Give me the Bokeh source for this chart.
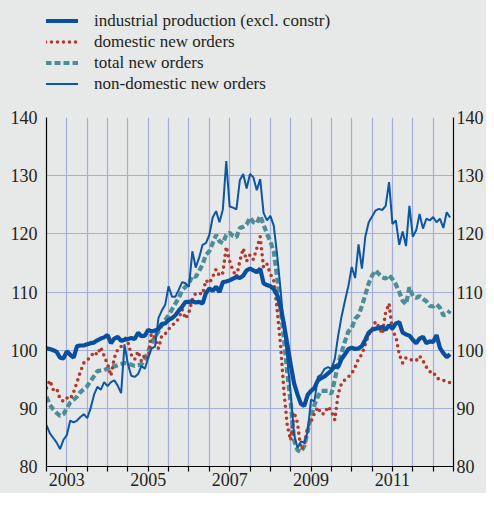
from bokeh.plotting import figure
from bokeh.layouts import column
from bokeh.models import (Range1d, FixedTicker, LinearAxis, Legend, LegendItem,
                          CustomJSTickFormatter)
from bokeh.embed import file_html
from bokeh.resources import INLINE

# ---------------- data (monthly, Jan 2003 - Dec 2012) ----------------
start_year = 2003

industrial_production = [
    100.3, 100.2, 100.0, 99.7, 98.7, 98.6, 99.8, 99.2, 98.7, 100.7,
    100.8, 100.8, 101.0, 101.2, 101.3, 101.7, 102.0, 102.2, 102.6, 101.2,
    102.0, 102.3, 101.6, 101.8, 101.9, 102.1, 101.9, 103.0, 102.4, 102.5,
    103.5, 103.2, 103.4, 103.6, 104.5, 104.6, 105.2, 105.5, 106.0, 106.8,
    107.5, 108.3, 108.3, 108.4, 108.2, 108.3, 108.0, 109.8, 110.6, 110.2,
    110.9, 110.0, 111.7, 111.8, 112.0, 112.3, 112.6, 112.4, 112.8, 113.7,
    114.0, 113.7, 113.4, 114.0, 111.5, 111.2, 111.0, 110.5, 109.5, 107.5,
    104.5, 101.0, 97.5, 94.3, 92.4, 90.8, 90.4, 92.3, 93.0, 93.5,
    94.8, 95.2, 95.5, 96.0, 96.5, 97.3, 97.1, 98.5, 99.3, 100.2,
    100.4, 100.2, 100.3, 100.7, 101.8, 103.0, 103.5, 103.7, 103.8, 104.0,
    103.5, 104.3, 103.7, 104.6, 104.8, 103.0, 102.7, 102.5, 101.8, 101.2,
    102.0, 102.3, 101.2, 101.5, 101.4, 102.6, 100.4, 99.5, 98.8, 99.3,
]

domestic_new_orders = [
    93.5, 94.8, 93.2, 93.4, 91.6, 91.2, 91.8, 91.6, 92.8, 94.5,
    96.3, 97.8, 98.3, 98.8, 99.7, 99.2, 100.5, 99.0, 97.6, 95.6,
    98.7, 100.1, 100.6, 102.3, 101.4, 99.2, 98.4, 99.8, 98.1, 99.2,
    98.6, 103.4, 102.0, 100.3, 102.5, 102.8, 103.6, 104.2, 104.8, 105.4,
    107.0, 105.4, 106.5, 108.7, 109.8, 109.8, 109.6, 112.0, 111.5, 112.6,
    113.9, 112.8, 113.3, 117.8, 115.3, 113.7, 112.6, 115.3, 117.5, 115.3,
    116.4, 115.6, 117.5, 119.5, 114.2, 114.8, 113.1, 112.0, 107.0, 101.0,
    93.0, 87.0, 84.5, 89.3, 87.5, 83.0, 83.5, 86.8, 87.7, 89.1,
    90.2, 89.0, 89.1, 90.3, 89.5, 88.0, 92.5, 94.3, 94.9, 95.4,
    96.0, 97.1, 98.5, 99.3, 101.0, 102.7, 103.5, 104.9, 104.0, 102.8,
    106.5, 108.0, 103.2, 102.4, 99.3, 97.8, 98.7, 98.5, 98.2, 98.2,
    99.0, 98.2, 97.1, 96.3, 96.3, 95.2, 95.0, 94.8, 94.6, 94.4,
]

total_new_orders = [
    92.0, 90.6, 89.8, 89.2, 88.7, 89.0, 90.0, 91.0, 91.5, 92.0,
    92.8, 93.3, 93.8, 94.7, 95.5, 96.4, 96.5, 96.6, 96.8, 97.3,
    97.2, 97.4, 97.6, 97.8, 97.7, 97.5, 97.3, 97.4, 97.6, 98.5,
    99.8, 101.3, 102.3, 103.2, 104.3, 105.2, 106.0, 107.0, 108.0, 109.0,
    110.3, 110.9, 111.5, 112.8, 112.6, 113.6, 114.7, 116.4, 117.0, 118.4,
    119.8, 118.7, 118.4, 119.8, 120.2, 119.6, 119.4, 121.0, 121.2, 121.6,
    122.8, 122.0, 121.8, 123.1, 121.6, 120.0, 118.7, 117.0, 112.5, 107.5,
    102.0, 96.0, 91.0, 84.5, 82.8, 82.5, 83.5, 86.0, 88.6, 90.6,
    92.0, 93.0, 93.0, 93.0, 92.5, 94.9, 97.7, 99.6, 101.5, 103.2,
    103.8, 105.4, 106.0, 107.6, 109.5, 111.5, 112.8, 113.7, 113.1, 112.5,
    112.3, 112.9, 112.2, 111.3, 110.0, 108.5, 107.9, 110.8, 109.3, 109.0,
    109.3, 108.8, 108.4, 107.6, 107.5, 107.9, 107.3, 106.0, 106.1, 106.8,
]

non_domestic_new_orders = [
    87.1, 85.7, 84.9, 84.1, 83.0, 84.6, 85.4, 87.9, 87.6, 87.9,
    88.5, 89.0, 88.3, 90.0, 92.3, 93.7, 93.2, 94.5, 93.8, 94.5,
    94.8, 93.9, 92.6, 101.0, 97.6, 95.6, 95.4, 95.9, 97.3, 96.8,
    98.7, 100.3, 100.6, 105.5, 106.8, 107.8, 111.0, 109.2, 109.2, 110.4,
    111.7, 111.5, 110.9, 117.0, 114.2, 115.9, 118.1, 118.4, 119.8, 122.8,
    123.9, 122.0, 124.2, 132.5, 124.7, 124.5, 124.2, 129.2, 130.3, 127.8,
    130.3, 129.7, 127.5, 129.4, 123.6, 122.3, 123.1, 121.4, 116.4, 110.5,
    104.0, 98.5, 92.5, 85.5, 83.2, 84.3, 84.1, 86.0, 91.5, 91.2,
    95.4, 95.8, 96.8, 97.1, 96.8, 98.5, 102.5, 105.8, 108.5, 111.0,
    114.3, 112.4, 118.2, 114.0, 119.5, 122.0, 123.0, 124.0, 124.3, 124.1,
    124.8, 128.9, 121.7, 122.3, 118.1, 120.4, 117.9, 124.8, 119.5, 120.6,
    123.4, 120.9, 122.6, 122.3, 122.9, 122.0, 122.6, 121.0, 123.7, 122.8,
]

series_labels = [
    "industrial production (excl. constr)",
    "domestic new orders",
    "total new orders",
    "non-domestic new orders",
]

y_ticks = [80, 90, 100, 110, 120, 130, 140]
year_labels = [2003, 2005, 2007, 2009, 2011]
x_start, x_end = 2003, 2013

# ---------------- derived positions ----------------
t = [start_year + i / 12 for i in range(len(industrial_production))]
half_years = [x_start + 0.5 * k for k in range(int((x_end - x_start) * 2) + 1)]
series = {
    "ip": industrial_production,
    "dom": domestic_new_orders,
    "tot": total_new_orders,
    "nd": non_domestic_new_orders,
}

BG = "#e7e8e8"
GRID = "#a3aed9"
SERIF = "Liberation Serif"
TXT = "#231f20"

STYLES = {
    "ip": dict(line_color="#0a4f9e", line_width=4.2),
    "dom": dict(line_color="#b3382d", line_width=3.6, line_dash="0 6", line_cap="round"),
    "tot": dict(line_color="#4e8d97", line_width=4.2, line_dash="6 3"),
    "nd": dict(line_color="#0d56a4", line_width=2),
}

W = 486
LEG_H = 100
MAIN_H = 393

# ---------------- main chart ----------------
p = figure(width=W, height=MAIN_H,
           x_range=Range1d(x_start, x_end), y_range=Range1d(80, 140),
           output_backend="svg", toolbar_location=None,
           min_border_left=46, min_border_right=30,
           min_border_top=17, min_border_bottom=27)
p.background_fill_color = BG
p.border_fill_color = BG
p.outline_line_color = None

p.xgrid.ticker = FixedTicker(ticks=half_years)
p.ygrid.ticker = FixedTicker(ticks=y_ticks)
p.grid.grid_line_color = GRID
p.grid.grid_line_width = 1.2

xa = p.xaxis[0]
xa.ticker = FixedTicker(ticks=half_years)
xa.formatter = CustomJSTickFormatter(args=dict(years=year_labels), code="""
    const y = Math.floor(tick + 1e-6);
    if (Math.abs(tick - y - 0.5) < 1e-3 && years.includes(y)) { return String(y); }
    return "";
""")
xa.axis_line_color = "black"
xa.axis_line_width = 1.2
xa.major_tick_line_color = "black"
xa.major_tick_line_width = 1.2
xa.major_tick_out = 5
xa.major_tick_in = 0
xa.minor_tick_line_color = None
xa.major_label_standoff = 1
xa.major_label_text_font = SERIF
xa.major_label_text_font_size = "18px"
xa.major_label_text_color = TXT

ra = LinearAxis(ticker=FixedTicker(ticks=y_ticks))
p.add_layout(ra, "right")
la = p.yaxis[0]
la.ticker = FixedTicker(ticks=y_ticks)
for ax, standoff in ((la, 9), (ra, 3)):
    ax.axis_line_color = "black"
    ax.axis_line_width = 1.2
    ax.major_tick_line_color = None
    ax.minor_tick_line_color = None
    ax.major_tick_out = 0
    ax.major_tick_in = 0
    ax.major_label_standoff = standoff
    ax.major_label_text_font = SERIF
    ax.major_label_text_font_size = "18px"
    ax.major_label_text_color = TXT

for key in ("tot", "dom", "nd", "ip"):
    p.line(t, series[key], **STYLES[key])

# ---------------- legend strip above the chart ----------------
# same series, plotted on a range where they fall outside the view;
# only their legend keys are visible
leg = figure(width=W, height=LEG_H, x_range=Range1d(0, 1), y_range=Range1d(0, 1),
             x_axis_type=None, y_axis_type=None,
             output_backend="svg", toolbar_location=None,
             min_border_left=46, min_border_right=30, min_border_top=0, min_border_bottom=0)
leg.background_fill_color = BG
leg.border_fill_color = BG
leg.outline_line_color = None

order = ("ip", "dom", "tot", "nd")
proxies = [leg.line(t, series[k], **STYLES[k]) for k in order]
legend = Legend(items=[LegendItem(label=lab, renderers=[r])
                       for lab, r in zip(series_labels, proxies)],
                location=(-1, 6), orientation="vertical")
legend.glyph_width = 33
legend.glyph_height = 21
legend.label_height = 21
legend.label_standoff = 16
legend.spacing = 0
legend.padding = 0
legend.margin = 0
legend.border_line_color = None
legend.background_fill_alpha = 0
legend.label_text_font = SERIF
legend.label_text_font_size = "17px"
legend.label_text_color = TXT
leg.add_layout(legend, "center")

layout = column(leg, p, spacing=0, styles={"background-color": BG})

open("out.html", "w").write(file_html(layout, INLINE))
